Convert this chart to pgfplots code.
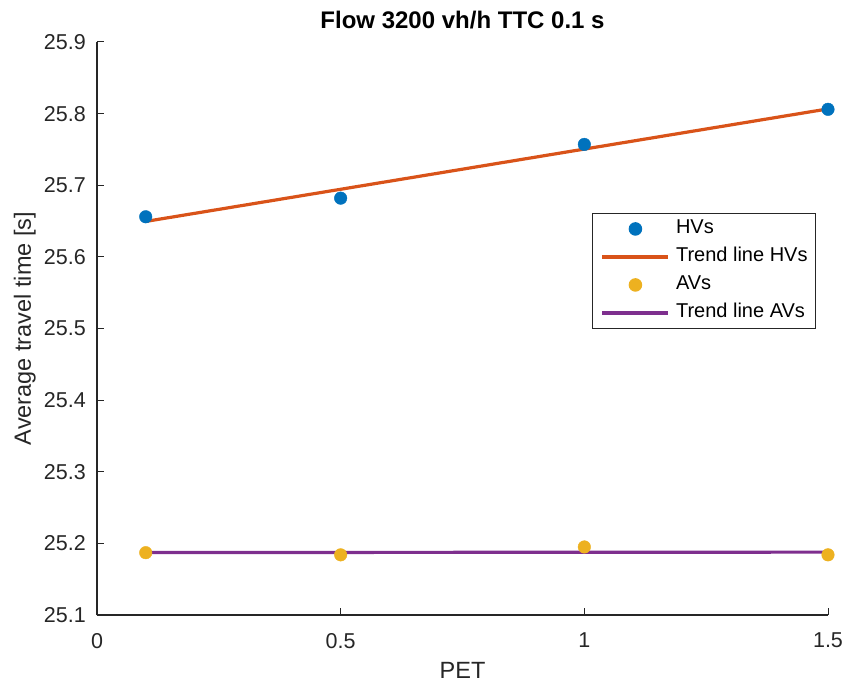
\documentclass[border=0pt]{standalone}
\usepackage{fontspec}
\setmainfont{Liberation Sans}
\usepackage{pgfplots}
\pgfplotsset{compat=1.18}

\definecolor{hvblue}{rgb}{0,0.447,0.741}
\definecolor{hvorange}{rgb}{0.85,0.325,0.098}
\definecolor{avyellow}{rgb}{0.929,0.694,0.125}
\definecolor{avpurple}{rgb}{0.494,0.184,0.556}
\definecolor{axgray}{rgb}{0.15,0.15,0.15}

\begin{document}
\begin{tikzpicture}
\begin{axis}[
  name=main,
  scale only axis, width=731bp, height=573bp,
  xmin=0, xmax=1.5, ymin=25.1, ymax=25.9,
  xtick={0,0.5,1,1.5},
  ytick={25.1,25.2,25.3,25.4,25.5,25.6,25.7,25.8,25.9},
  axis lines=left,
  axis line style={-, color=axgray, line width=1.1bp},
  tick align=inside,
  major tick length=7bp,
  tick style={color=axgray, line width=1bp},
  clip=false,
  /pgf/number format/assume math mode=true,
  yticklabel style={/pgf/number format/fixed, /pgf/number format/fixed zerofill,
    /pgf/number format/precision=1, inner sep=0pt, anchor=east, xshift=-11bp},
  xticklabel style={inner sep=0pt, anchor=north, yshift=-18bp},
  tick label style={font=\fontsize{21.5bp}{24bp}\selectfont, color=axgray},
  xlabel={PET},
  ylabel={Average travel time [s]},
  label style={font=\fontsize{23.5bp}{27bp}\selectfont, color=axgray},
  xlabel style={at={(axis description cs:0.5,0)}, anchor=base, yshift=-63bp, inner sep=0pt},
  ylabel style={at={(axis description cs:0,0.5)}, anchor=base, yshift=66bp, inner sep=0pt},
  title={Flow 3200 vh/h TTC 0.1 s},
  title style={at={(axis description cs:0.5,1)}, anchor=base, yshift=8bp, inner sep=0pt,
    font=\fontsize{24bp}{28bp}\selectfont\bfseries, color=black},
  legend image code/.code={%
    \draw[mark repeat=2, mark phase=2, #1] plot coordinates {(0bp,0bp) (33bp,0bp) (66bp,0bp)};},
  legend cell align=left,
  legend style={at={(axis description cs:0.9836,0.7016)}, anchor=north east,
    draw=axgray, line width=0.9bp, fill=white,
    font=\fontsize{20bp}{23bp}\selectfont, text=black,
    inner xsep=8bp, inner ysep=6.5bp, row sep=10bp, column sep=6bp,
    nodes={inner sep=0pt, text height=14bp, text depth=4bp}},
]
% HV measurements and fitted line
\addplot[only marks, mark=*, mark size=6.3bp, color=hvblue, mark options={draw=hvblue, fill=hvblue}]
  coordinates {(0.1,25.656) (0.5,25.682) (1,25.757) (1.5,25.806)};
\addlegendentry{HVs}
\addplot[color=hvorange, line width=3.2bp, no marks]
  coordinates {(0.1,25.6495) (1.5,25.8066)};
\addlegendentry{Trend line HVs}
% AV measurements and fitted line
\addplot[only marks, mark=*, mark size=6.3bp, color=avyellow, mark options={draw=avyellow, fill=avyellow}]
  coordinates {(0.1,25.187) (0.5,25.184) (1,25.195) (1.5,25.184)};
\addlegendentry{AVs}
\addplot[color=avpurple, line width=3.2bp, no marks]
  coordinates {(0.1,25.1872) (1.5,25.1878)};
\addlegendentry{Trend line AVs}
\end{axis}
\pgfresetboundingbox
\path ([shift={(-97bp,-71bp)}]main.south west) rectangle ([shift={(17bp,42bp)}]main.north east);
\end{tikzpicture}
\end{document}
